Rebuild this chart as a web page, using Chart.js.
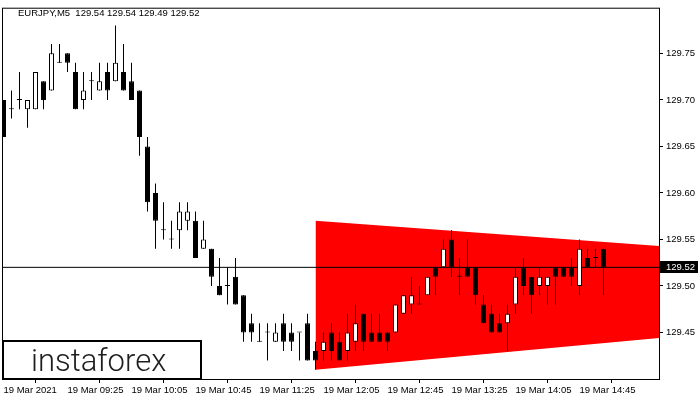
<!DOCTYPE html>
<html>
<head>
<meta charset="utf-8">
<script src="https://cdn.jsdelivr.net/npm/chart.js@4.4.1/dist/chart.umd.min.js"></script>
<style>
  html, body { margin: 0; padding: 0; background: #fff; }
  canvas { display: block; }
</style>
</head>
<body>
<canvas id="chart" width="700" height="400"></canvas>
<script>
'use strict';

const SYMBOL = 'EURJPY,M5';

// one 5-minute candle per entry, from 08:45 on
const OPEN  = [129.70,129.69,129.70,129.69,129.69,129.72,129.71,129.74,129.75,129.73,
               129.70,129.72,129.71,129.73,129.72,129.73,129.72,129.71,129.65,129.60,
               129.56,129.55,129.56,129.57,129.57,129.54,129.54,129.50,129.50,129.51,
               129.49,129.46,129.44,129.45,129.44,129.46,129.45,129.45,129.46,129.43,
               129.43,129.45,129.44,129.43,129.44,129.47,129.45,129.45,129.45,129.45,
               129.47,129.48,129.48,129.49,129.52,129.52,129.55,129.51,129.52,129.52,
               129.48,129.47,129.46,129.46,129.48,129.52,129.51,129.50,129.50,129.52,
               129.52,129.52,129.50,129.53,129.53,129.54];
const HIGH  = [129.70,129.71,129.73,129.70,129.73,129.72,129.76,129.76,129.75,129.74,
               129.73,129.73,129.74,129.74,129.78,129.76,129.74,129.71,129.66,129.61,
               129.59,129.57,129.59,129.59,129.58,129.57,129.54,129.53,129.52,129.53,
               129.49,129.47,129.46,129.46,129.46,129.47,129.46,129.45,129.47,129.44,
               129.45,129.46,129.45,129.47,129.48,129.47,129.47,129.47,129.45,129.48,
               129.49,129.51,129.50,129.51,129.52,129.55,129.56,129.53,129.55,129.52,
               129.49,129.48,129.47,129.48,129.52,129.53,129.51,129.52,129.51,129.52,
               129.52,129.53,129.55,129.54,129.54,129.54];
const LOW   = [129.66,129.68,129.69,129.67,129.69,129.69,129.71,129.74,129.73,129.69,
               129.69,129.70,129.71,129.70,129.72,129.71,129.70,129.64,129.58,129.54,
               129.55,129.54,129.54,129.56,129.53,129.54,129.50,129.49,129.48,129.48,
               129.44,129.44,129.44,129.42,129.44,129.43,129.43,129.42,129.42,129.41,
               129.42,129.42,129.42,129.42,129.43,129.43,129.44,129.44,129.43,129.45,
               129.47,129.47,129.48,129.49,129.49,129.52,129.51,129.49,129.51,129.48,
               129.46,129.45,129.45,129.43,129.47,129.49,129.47,129.49,129.48,129.48,
               129.51,129.50,129.49,129.52,129.52,129.49];
const CLOSE = [129.66,129.69,129.70,129.70,129.73,129.70,129.75,129.74,129.74,129.69,
               129.71,129.72,129.72,129.71,129.74,129.71,129.70,129.66,129.59,129.57,
               129.56,129.55,129.58,129.58,129.53,129.55,129.51,129.49,129.50,129.48,
               129.45,129.45,129.44,129.45,129.45,129.44,129.44,129.45,129.42,129.42,
               129.44,129.43,129.42,129.45,129.46,129.44,129.44,129.44,129.44,129.48,
               129.49,129.49,129.48,129.51,129.51,129.54,129.52,129.51,129.51,129.49,
               129.46,129.45,129.45,129.47,129.51,129.50,129.49,129.51,129.51,129.51,
               129.51,129.51,129.54,129.52,129.53,129.52];

const X_TICKS  = [0, 8, 16, 24, 32, 40, 48, 56, 64, 72];
const X_LABELS = ['19 Mar 2021', '19 Mar 09:25', '19 Mar 10:05', '19 Mar 10:45', '19 Mar 11:25',
                  '19 Mar 12:05', '19 Mar 12:45', '19 Mar 13:25', '19 Mar 14:05', '19 Mar 14:45'];
const Y_TICKS  = [129.45, 129.50, 129.55, 129.60, 129.65, 129.70, 129.75];

// triangle pattern (bar index -> price)
const TRI_X     = [39, 82];
const TRI_UPPER = [129.570, 129.543];
const TRI_LOWER = [129.410, 129.444];

const CURRENT_PRICE = 129.52;
const X_MIN = -0.0625, X_MAX = 81.9375;
const Y_MIN = 129.40,  Y_MAX = 129.798;

const FONT = "'Liberation Sans', Arial, sans-serif";

const idx    = OPEN.map((_, i) => i);
const wicks  = idx.map(i => ({ x: i, y: [LOW[i], HIGH[i]] }));
const bodies = idx.map(i => ({ x: i, y: [Math.min(OPEN[i], CLOSE[i]), Math.max(OPEN[i], CLOSE[i])] }));
const bodyFill = idx.map(i => CLOSE[i] > OPEN[i] ? '#ffffff' : '#000000');

const last = OPEN.length - 1;
const header = SYMBOL + '  ' + [OPEN[last], HIGH[last], LOW[last], CLOSE[last]].map(v => v.toFixed(2)).join(' ');

const chrome = {
    id: 'chrome',
    afterDraw(chart) {
        const { ctx, chartArea: a, scales: { y } } = chart;
        ctx.save();
        ctx.strokeStyle = '#000';
        ctx.lineWidth = 1;
        ctx.strokeRect(a.left - 0.5, a.top - 0.5, a.right - a.left + 1, a.bottom - a.top + 1);

        ctx.fillStyle = '#000';
        ctx.font = '9.5px ' + FONT;
        ctx.textBaseline = 'middle';
        ctx.textAlign = 'left';
        ctx.fillText(header, 18, 13);

        const py = Math.round(y.getPixelForValue(CURRENT_PRICE));
        ctx.fillRect(a.right + 1, py - 6, 38, 12);
        ctx.fillStyle = '#fff';
        ctx.fillText(CURRENT_PRICE.toFixed(2), a.right + 7, py);

        // logo box
        ctx.fillStyle = '#fff';
        ctx.fillRect(3, 341, 198, 38);
        ctx.lineWidth = 2;
        ctx.strokeStyle = '#000';
        ctx.strokeRect(3, 341, 198, 38);
        ctx.fillStyle = '#1e1e1e';
        ctx.font = "300 31px Roboto, 'Open Sans', sans-serif";
        ctx.textBaseline = 'alphabetic';
        ctx.fillText('instaforex', 31, 371);
        ctx.restore();
    }
};

new Chart(document.getElementById('chart'), {
    data: {
        datasets: [
            {
                type: 'line', data: TRI_X.map((x, i) => ({ x, y: TRI_UPPER[i] })),
                borderWidth: 0, pointRadius: 0, fill: '+1', backgroundColor: '#ff0000', order: 4,
            },
            {
                type: 'line', data: TRI_X.map((x, i) => ({ x, y: TRI_LOWER[i] })),
                borderWidth: 0, pointRadius: 0, fill: false, order: 4,
            },
            {
                type: 'line', data: [{ x: X_MIN, y: CURRENT_PRICE }, { x: X_MAX, y: CURRENT_PRICE }],
                borderColor: '#000', borderWidth: 1, pointRadius: 0, fill: false, order: 3,
            },
            {
                type: 'bar', data: wicks, backgroundColor: '#000', barThickness: 1,
                grouped: false, inflateAmount: 0, borderWidth: 0, order: 2,
            },
            {
                type: 'bar', data: bodies, backgroundColor: bodyFill, borderColor: '#000',
                borderWidth: 1, borderSkipped: false, barThickness: 5, minBarLength: 1,
                grouped: false, inflateAmount: 0, order: 1,
            },
        ]
    },
    options: {
        responsive: false,
        animation: false,
        events: [],
        layout: { padding: { left: 3, top: 6, right: 0, bottom: 0 } },
        plugins: { legend: { display: false }, tooltip: { enabled: false } },
        scales: {
            x: {
                type: 'linear', min: X_MIN, max: X_MAX, offset: false,
                afterFit: s => { s.height = 21; },
                afterBuildTicks: s => { s.ticks = X_TICKS.map(v => ({ value: v })); },
                ticks: {
                    color: '#000', font: { family: FONT, size: 9.5 }, align: 'start',
                    padding: 2, maxRotation: 0, autoSkip: false,
                    callback: v => X_LABELS[X_TICKS.indexOf(v)],
                },
                grid: { drawOnChartArea: false, drawTicks: true, tickLength: 4, color: '#000' },
                border: { display: false },
            },
            y: {
                type: 'linear', position: 'right', min: Y_MIN, max: Y_MAX,
                afterFit: s => { s.width = 41; },
                afterBuildTicks: s => { s.ticks = Y_TICKS.map(v => ({ value: v })); },
                ticks: {
                    color: '#000', font: { family: FONT, size: 9.5 }, padding: 3,
                    callback: v => v.toFixed(2),
                },
                grid: { drawOnChartArea: false, drawTicks: true, tickLength: 4, color: '#000' },
                border: { display: false },
            }
        }
    },
    plugins: [chrome]
});
</script>
</body>
</html>
